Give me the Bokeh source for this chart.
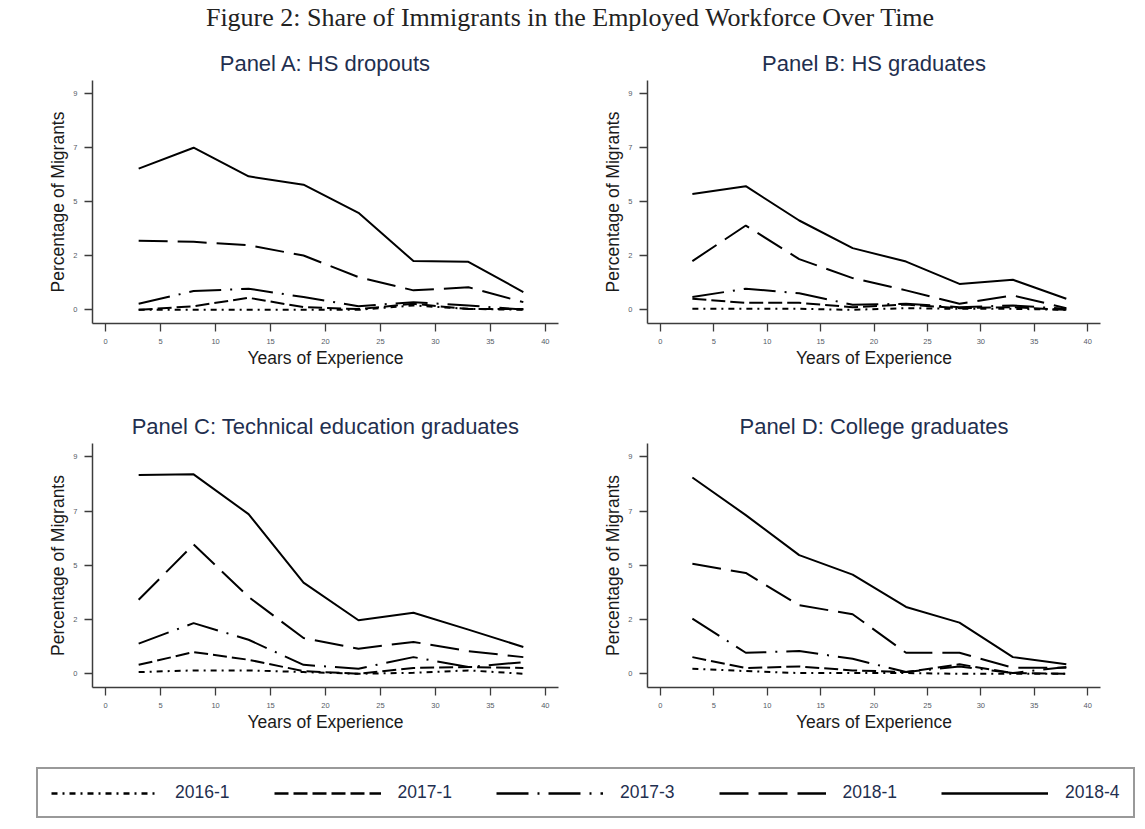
from bokeh.plotting import figure
from bokeh.layouts import column, row
from bokeh.models import (Range1d, FixedTicker, Legend, LegendItem)
from bokeh.embed import file_html
from bokeh.resources import INLINE

# ---------------- data ----------------
years = [3, 8, 13, 18, 23, 28, 33, 38]
series_labels = ["2016-1", "2017-1", "2017-3", "2018-1", "2018-4"]
x_ticks = [0, 5, 10, 15, 20, 25, 30, 35, 40]
y_tick_values = [0, 2.25, 4.5, 6.75, 9]
y_tick_labels = ["0", "2", "5", "7", "9"]

panel_titles = ["Panel A: HS dropouts", "Panel B: HS graduates",
                "Panel C: Technical education graduates", "Panel D: College graduates"]

a_2016_1 = [0.0, 0.0, 0.0, 0.0, 0.0, 0.18, 0.04, 0.0]
a_2017_1 = [0.0, 0.15, 0.5, 0.11, 0.03, 0.25, 0.03, 0.03]
a_2017_3 = [0.25, 0.78, 0.88, 0.53, 0.15, 0.32, 0.18, 0.01]
a_2018_1 = [2.88, 2.83, 2.69, 2.26, 1.36, 0.81, 0.94, 0.32]
a_2018_4 = [5.88, 6.75, 5.56, 5.21, 4.04, 2.03, 2.0, 0.74]

b_2016_1 = [0.04, 0.04, 0.04, 0.0, 0.07, 0.04, 0.04, 0.0]
b_2017_1 = [0.46, 0.29, 0.29, 0.11, 0.22, 0.07, 0.11, 0.0]
b_2017_3 = [0.53, 0.88, 0.69, 0.21, 0.25, 0.11, 0.18, 0.04]
b_2018_1 = [2.03, 3.51, 2.11, 1.32, 0.81, 0.25, 0.6, 0.07]
b_2018_4 = [4.82, 5.15, 3.72, 2.57, 2.01, 1.08, 1.25, 0.46]

c_2016_1 = [0.07, 0.14, 0.14, 0.07, 0.0, 0.04, 0.14, 0.0]
c_2017_1 = [0.37, 0.9, 0.58, 0.11, 0.0, 0.24, 0.28, 0.24]
c_2017_3 = [1.25, 2.1, 1.41, 0.37, 0.21, 0.69, 0.28, 0.48]
c_2018_1 = [3.07, 5.36, 3.19, 1.48, 1.04, 1.32, 0.94, 0.69]
c_2018_4 = [8.24, 8.27, 6.62, 3.78, 2.22, 2.53, 1.83, 1.11]

d_2016_1 = [0.21, 0.11, 0.03, 0.03, 0.03, 0.0, 0.0, 0.0]
d_2017_1 = [0.69, 0.24, 0.3, 0.14, 0.07, 0.39, 0.03, 0.0]
d_2017_3 = [2.29, 0.87, 0.94, 0.62, 0.07, 0.3, 0.03, 0.28]
d_2018_1 = [4.56, 4.18, 2.84, 2.47, 0.87, 0.87, 0.25, 0.25]
d_2018_4 = [8.14, 6.58, 4.92, 4.11, 2.77, 2.12, 0.69, 0.39]

fig_title = "Figure 2: Share of Immigrants in the Employed Workforce Over Time"

# ---------------- styles ----------------
DASHES = ["6 5 2 5", "14 5", "32 9 2 9", "29 10", "solid"]
NAVY = "#1f2f4f"
AXIS_C = "#3c3c3c"
FONT = "Liberation Sans"

panels_data = [
    [a_2016_1, a_2017_1, a_2017_3, a_2018_1, a_2018_4],
    [b_2016_1, b_2017_1, b_2017_3, b_2018_1, b_2018_4],
    [c_2016_1, c_2017_1, c_2017_3, c_2018_1, c_2018_4],
    [d_2016_1, d_2017_1, d_2017_3, d_2018_1, d_2018_4],
]


def make_panel(title, data, width, height, bl, br, bt, bb):
    p = figure(width=width, height=height, title=title,
               x_range=Range1d(-1.2, 41.2), y_range=Range1d(-0.57, 9.55),
               output_backend="svg", toolbar_location=None,
               min_border_left=bl, min_border_right=br,
               min_border_top=bt, min_border_bottom=bb)
    p.title.align = "center"
    p.title.text_font = FONT
    p.title.text_font_size = "22px"
    p.title.text_font_style = "normal"
    p.title.text_color = NAVY
    p.title.standoff = 9
    p.outline_line_color = None
    p.grid.visible = False
    for ax in (p.xaxis, p.yaxis):
        ax.axis_line_color = AXIS_C
        ax.axis_line_width = 1.5
        ax.major_tick_line_color = AXIS_C
        ax.major_tick_line_width = 1.3
        ax.major_tick_in = 0
        ax.major_tick_out = 8
        ax.minor_tick_line_color = None
        ax.major_label_text_font = FONT
        ax.major_label_text_font_size = "7.5px"
        ax.major_label_text_color = "#555b66"
        ax.major_label_standoff = 7
        ax.axis_label_text_font = FONT
        ax.axis_label_text_font_size = "17.5px"
        ax.axis_label_text_font_style = "normal"
        ax.axis_label_text_color = "#1a1a1a"
    p.xaxis.ticker = FixedTicker(ticks=x_ticks)
    p.yaxis.ticker = FixedTicker(ticks=y_tick_values)
    p.yaxis.major_label_overrides = {v: l for v, l in zip(y_tick_values, y_tick_labels)}
    p.yaxis.major_label_orientation = 0
    p.xaxis.axis_label = "Years of Experience"
    p.yaxis.axis_label = "Percentage of Migrants"
    p.xaxis.axis_label_standoff = 1
    p.yaxis.axis_label_standoff = 2
    for vals, dash in zip(data, DASHES):
        p.line(years, vals, line_color="black", line_width=2, line_dash=dash)
    return p


TOP_H = 42
pA = make_panel(panel_titles[0], panels_data[0], 578, 375 - TOP_H, 92, 20, 80 - TOP_H, 52)
pB = make_panel(panel_titles[1], panels_data[1], 562, 375 - TOP_H, 69, 40, 80 - TOP_H, 52)
pC = make_panel(panel_titles[2], panels_data[2], 578, 370, 92, 20, 68, 58)
pD = make_panel(panel_titles[3], panels_data[3], 562, 370, 69, 40, 68, 58)

# figure title on top (as a real plot title)
tfig = figure(width=1140, height=TOP_H, title=fig_title, output_backend="svg",
              toolbar_location=None, x_axis_type=None, y_axis_type=None,
              min_border=0, x_range=Range1d(0, 1), y_range=Range1d(0, 1))
tfig.title.align = "center"
tfig.title.text_font = "Liberation Serif"
tfig.title.text_font_size = "26px"
tfig.title.text_font_style = "normal"
tfig.title.text_color = "#222222"
tfig.title.standoff = 0
tfig.title.offset = 0
tfig.outline_line_color = None
tfig.grid.visible = False

# legend figure
leg = figure(width=1140, height=80, output_backend="svg", toolbar_location=None,
             x_axis_type=None, y_axis_type=None, min_border=0,
             x_range=Range1d(1000, 2000), y_range=Range1d(1000, 2000))
leg.outline_line_color = None
leg.grid.visible = False
items = []
for lab, vals, dash in zip(series_labels, panels_data[0], DASHES):
    r = leg.line(years, vals, line_color="black", line_width=2.5, line_dash=dash)
    items.append(LegendItem(label=lab, renderers=[r]))
legend = Legend(items=items, orientation="horizontal", location=(36, 7),
                glyph_width=107, glyph_height=20, label_standoff=17, spacing=44,
                padding=13, margin=0, border_line_color="#333333", border_line_width=2,
                label_text_font=FONT, label_text_font_size="17.5px",
                label_text_color=NAVY, background_fill_color="white",
                background_fill_alpha=1.0)
leg.add_layout(legend, "center")

layout = column(tfig, row(pA, pB), row(pC, pD), leg)

open("out.html", "w").write(file_html(layout, INLINE))
